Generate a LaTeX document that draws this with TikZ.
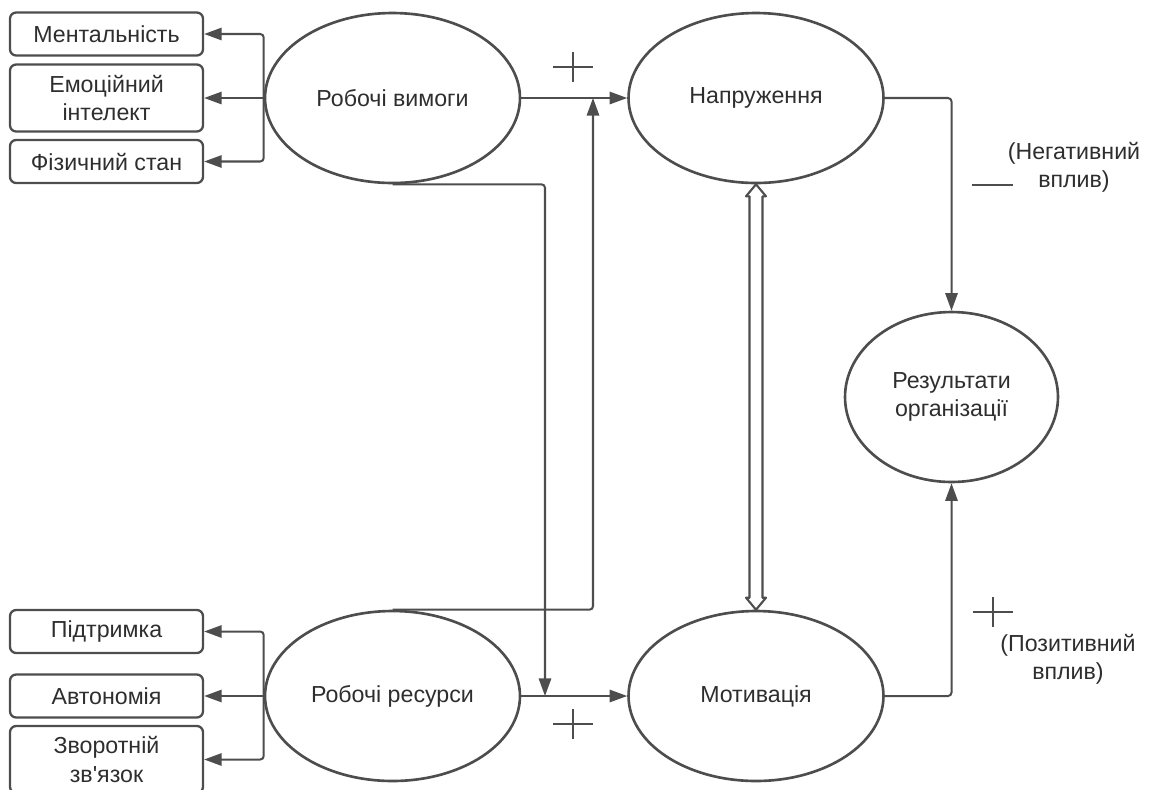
\documentclass[tikz,border=0pt]{standalone}
\usepackage{fontspec}
\setmainfont{Liberation Sans}[Ligatures=TeXOff]
\usetikzlibrary{arrows.meta,calc,shapes.geometric}
\definecolor{linegray}{HTML}{4D4D4D}
\definecolor{textgray}{HTML}{2E2E2E}
\begin{document}
\begin{tikzpicture}[x=0.02cm, y=-0.02cm, font=\fontsize{13.2}{16}\selectfont,
  oval/.style={draw=linegray, ellipse, line width=1.5pt, minimum width=5.1cm, minimum height=3.4cm, inner sep=0pt, align=center, text=textgray},
  itembox/.style={draw=linegray, rectangle, rounded corners=3.5pt, line width=1.3pt, minimum width=3.86cm, minimum height=0.86cm, inner sep=2pt, align=center, text=textgray},
  conn/.style={draw=linegray, line width=1.15pt, rounded corners=2pt, -{Triangle[length=10pt, width=7pt]}},
  sign/.style={draw=linegray, line width=1.15pt},
  dblarrow/.style={draw=linegray, line width=1.2pt, fill=white, line join=round}]

\useasboundingbox (0,0) rectangle (1149,789);

% ========== Main ovals ==========
\node[oval] (vymohy) at (392.5,98) {Робочі вимоги};
\node[oval] (napr) at (756,98) {Напруження};
\node[oval] (resursy) at (392.5,696) {Робочі ресурси};
\node[oval] (motyv) at (756,696) {Мотивація};
\node[oval, minimum width=4.26cm] (rezult) at (951.5,397) {Результати\\організації};

% ========== Side boxes (top) ==========
\node[itembox] (mental) at (106.5,34) {Ментальність};
\node[itembox, minimum height=1.34cm] (emot) at (106.5,98) {Емоційний\\інтелект};
\node[itembox] (fiz) at (106.5,161.5) {Фізичний стан};

% ========== Side boxes (bottom) ==========
\node[itembox] (pidtr) at (106.5,631.5) {Підтримка};
\node[itembox] (avton) at (106.5,696) {Автономія};
\node[itembox, minimum height=1.34cm] (zvor) at (106.5,759.5) {Зворотній\\зв'язок};

% brackets to the side boxes
\draw[conn] (vymohy.west) |- (mental.east);
\draw[conn] (vymohy.west) -- (emot.east);
\draw[conn] (vymohy.west) |- (fiz.east);
\draw[conn] (resursy.west) |- (pidtr.east);
\draw[conn] (resursy.west) -- (avton.east);
\draw[conn] (resursy.west) |- (zvor.east);

% ========== Connectors between ovals ==========
\coordinate (jtop) at (593,98);
\coordinate (jbot) at (545,696);
\draw[conn] (vymohy) -- (napr);
\draw[conn] (resursy) -- (motyv);
\draw[conn] (resursy.north) -| (jtop);
\draw[conn] (vymohy.south) -| (jbot);
\draw[conn] (napr.east) -| (rezult.north);
\draw[conn] (motyv.east) -| (rezult.south);

% hollow double arrow
\draw[dblarrow] (napr.south) -- ++(10,12) -- ++(-3.5,0)
  -- ($(motyv.north)+(6.5,-12)$) -- ++(3.5,0) -- (motyv.north)
  -- ++(-10,-12) -- ++(3.5,0) -- ($(napr.south)+(-6.5,12)$) -- ++(-3.5,0) -- cycle;

% ========== Signs and notes ==========
\foreach \px/\py in {573/67, 573/724, 993/612}
  \draw[sign] (\px-20,\py) -- (\px+20,\py) (\px,\py-15) -- (\px,\py+15);
\draw[sign] (972,185) -- (1013,185);

\node[text=textgray, align=center] (negtxt) at (1074,167) {(Негативний\\вплив)};
\node[text=textgray, align=center] (postxt) at (1068,659) {(Позитивний\\вплив)};

\end{tikzpicture}
\end{document}
